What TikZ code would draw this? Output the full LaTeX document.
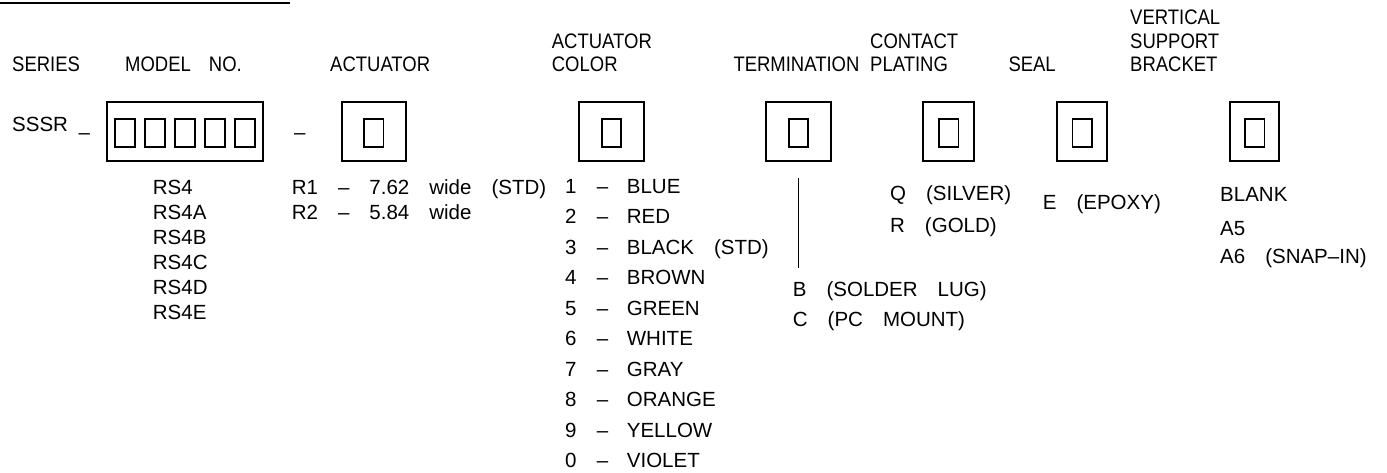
\documentclass[tikz,border=0pt]{standalone}
\usepackage{fontspec}
\setmainfont{Liberation Sans}
\newfontfamily\hdfont{Liberation Sans}[FakeStretch = 0.88]

\newcommand{\wsp}{\hspace{20pt}}
\newcommand{\colrow}[2]{\makebox[31.7pt][l]{#1}\makebox[30pt][l]{–}#2}

\begin{document}
\begin{tikzpicture}[x = 1pt, y = -1pt,
	head/.style = {anchor = base west, inner sep = 0pt, align = left,
		font = \hdfont\fontsize{21pt}{23.4pt}\selectfont},
	opt/.style = {anchor = base west, inner sep = 0pt, align = left,
		font = \fontsize{20.5pt}{#1}\selectfont},
	opt/.default = 25pt,
	codebox/.style = {draw, line width = 1.9pt, minimum width = #1,
		minimum height = 59pt, inner sep = 0pt},
	slot/.style = {draw, line width = 1.8pt, minimum width = 19.5pt,
		minimum height = 28.5pt, inner sep = 0pt}]

	\useasboundingbox (0, 0) rectangle (1387, 472);

	% Title rule

	\draw [line width = 2pt] (0, 2.5) -- (290, 2.5);

	% Headings (multi-line nodes sit on their last baseline)

	\node [head] (series) at (12, 71.7) {SERIES};
	\node [head] (model) at (125, 71.7) {MODEL\hspace{18pt}NO.};
	\node [head] (actuator) at (330, 71.7) {ACTUATOR};
	\node [head] (color) at (551.7, 71.7) {ACTUATOR\\COLOR};
	\node [head] (termination) at (733.3, 71.7) {TERMINATION};
	\node [head] (plating) at (870, 71.7) {CONTACT\\PLATING};
	\node [head] (seal) at (1008.3, 71.7) {SEAL};
	\node [head] (bracket) at (1130, 71.7) {VERTICAL\\SUPPORT\\BRACKET};

	% Code boxes

	\node [opt] (sssr) at (12, 131.7) {SSSR\hspace{10.5pt}\raisebox{-8pt}{–}};
	\node [codebox = 156.6pt] (boxmodel) at (185, 131.2) {};
	\foreach \i in {0, ..., 4}
		\node [slot, minimum width = 20pt] (slotmodel\i) at (125 + 30*\i, 133) {};
	\node [opt] (dash) at (294, 131.7) {\raisebox{-8pt}{–}};

	\foreach \nm/\cx/\w in {act/373.7/64, col/611.5/65, term/798.5/65,
		plat/948.7/50.7, seal/1082.3/50, brack/1254.7/49.3} {
		\node [codebox = \w pt] (box\nm) at (\cx, 131.2) {};
		\node [slot] (slot\nm) at (\cx, 133) {};
	}

	% Options

	\node [opt] (models) at (152.7, 319) {RS4\\RS4A\\RS4B\\RS4C\\RS4D\\RS4E};
	\node [opt] (widths) at (291.7, 219)
		{R1\wsp–\wsp 7.62\wsp wide\wsp(STD)\\R2\wsp–\wsp 5.84\wsp wide};
	\node [opt = 30.5pt] (colors) at (565, 467.8) {\colrow{1}{BLUE}\\
		\colrow{2}{RED}\\\colrow{3}{BLACK\wsp(STD)}\\\colrow{4}{BROWN}\\
		\colrow{5}{GREEN}\\\colrow{6}{WHITE}\\\colrow{7}{GRAY}\\
		\colrow{8}{ORANGE}\\\colrow{9}{YELLOW}\\\colrow{0}{VIOLET}};

	\coordinate (termtop) at (798.3, 178.3);
	\coordinate (termbot) at (798.3, 268.3);
	\draw [line width = 1.6pt] (termtop) -- (termbot);
	\node [opt = 30pt] (terms) at (792.7, 326)
		{B\wsp(SOLDER\wsp LUG)\\C\wsp(PC\wsp MOUNT)};

	\node [opt = 31.5pt] (platings) at (890, 232) {Q\wsp(SILVER)\\R\wsp(GOLD)};
	\node [opt] (seals) at (1042.7, 209.3) {E\wsp(EPOXY)};
	\node [opt = 28.3pt] (brackets) at (1220, 263.3)
		{BLANK\\[5pt]A5\\A6\wsp(SNAP–IN)};

\end{tikzpicture}
\end{document}
